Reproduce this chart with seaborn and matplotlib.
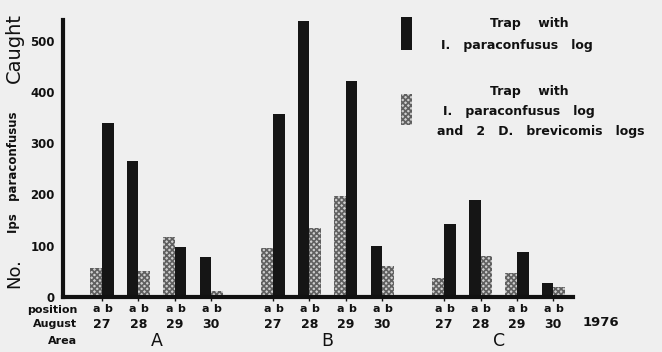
import numpy as np
import pandas as pd
import matplotlib
matplotlib.use("Agg")
import matplotlib.pyplot as plt
import matplotlib.transforms as mtransforms
from matplotlib.patches import Rectangle
import seaborn as sns

# ---- data ----
areas = ["A", "B", "C"]
dates = ["27", "28", "29", "30"]
positions = ["a", "b"]
# trap type at (a, b) per area/date: "P" = I. paraconfusus log only, "PD" = with D. brevicomis logs
trap_A = [["PD", "P"], ["P", "PD"], ["PD", "P"], ["P", "PD"]]
trap_B = [["PD", "P"], ["P", "PD"], ["PD", "P"], ["P", "PD"]]
trap_C = [["PD", "P"], ["P", "PD"], ["PD", "P"], ["P", "PD"]]
count_A = [[57, 340], [266, 51], [116, 97], [78, 12]]
count_B = [[96, 356], [539, 134], [197, 422], [100, 61]]
count_C = [[37, 142], [189, 79], [47, 88], [27, 20]]
year_label = "1976"

sns.set_theme(style="white")
BG = "#efefef"
plt.rcParams["font.family"] = ["DejaVu Sans"]
plt.rcParams["hatch.linewidth"] = 1.2

rows = []
area_gap = 0.7
bar_w = 0.32
for ai, (ar, tr, ct) in enumerate(zip(areas, [trap_A, trap_B, trap_C], [count_A, count_B, count_C])):
    for di, d in enumerate(dates):
        center = ai * (len(dates) + area_gap) + di
        for pi, p in enumerate(positions):
            rows.append(dict(area=ar, date=d, pos=p,
                             x=round(center + (pi - 0.5) * bar_w, 4),
                             center=center,
                             trap=tr[di][pi], count=ct[di][pi]))
df = pd.DataFrame(rows)

fig = plt.figure(figsize=(6.62, 3.52), dpi=100, facecolor=BG)
ax = fig.add_axes([63 / 662, 1 - 297 / 352, (573 - 63) / 662, (297 - 20) / 352])
ax.set_facecolor(BG)

sns.barplot(data=df, x="x", y="count", hue="trap", hue_order=["P", "PD"],
            palette={"P": "#151515", "PD": "#cfcfcf"}, native_scale=True,
            dodge=False, width=1.0, legend=False, ax=ax, linewidth=0,
            saturation=1, err_kws={"linewidth": 0})

for cont in ax.containers:
    for patch in cont.patches:
        fc = patch.get_facecolor()
        if fc[0] > 0.5:
            patch.set_hatch("xxxxxx")
            patch.set_edgecolor("#606060")
            patch.set_linewidth(0)

ax.set_xlim(-1.07, 12.94)
ax.set_ylim(0, 540)
for s in ["top", "right"]:
    ax.spines[s].set_visible(False)
for s in ["left", "bottom"]:
    ax.spines[s].set_linewidth(3)
    ax.spines[s].set_color("#111111")

ax.set_yticks([0, 100, 200, 300, 400, 500])
ax.set_yticklabels(["0", "100", "200", "300", "400", "500"], fontweight="bold", fontsize=8.5)
ax.tick_params(axis="y", length=0, pad=6, colors="#111111")

ax.set_xticks(df["x"].tolist())
ax.set_xticklabels(df["pos"].tolist(), fontweight="bold", fontsize=8)
ax.set_xticks(sorted(df["center"].unique()), minor=True)
ax.tick_params(axis="x", which="major", length=0, pad=5, colors="#111111")
ax.tick_params(axis="x", which="minor", length=3, width=1, color="#111111", direction="out", bottom=True)
ax.set_xlabel("")
ax.set_ylabel("")

trans = mtransforms.blended_transform_factory(ax.transData, fig.transFigure)
for (ar, d), g in df.groupby(["area", "date"]):
    c = g["center"].iloc[0]
    ax.text(c, 1 - 324 / 352, d, transform=trans, ha="center", va="center",
            fontsize=9, fontweight="bold", color="#111111")
for ar, g in df.groupby("area"):
    c = g["center"].mean()
    ax.text(c, 1 - 341 / 352, ar, transform=trans, ha="center", va="center",
            fontsize=12.5, color="#111111")

for txt, y in [("position", 310), ("August", 324), ("Area", 341)]:
    fig.text(77 / 662, 1 - y / 352, txt, ha="right", va="center", fontsize=8,
             fontweight="bold", color="#111111")
fig.text(601 / 662, 1 - 322 / 352, year_label, ha="center", va="center",
         fontsize=9.5, fontweight="bold", color="#111111")

# y axis label (mixed sizes as in the original)
fig.text(14 / 662, 1 - 273 / 352, "No.", rotation=90, ha="center", va="center",
         fontsize=13, color="#111111")
fig.text(14 / 662, 1 - 172 / 352, "Ips   paraconfusus", rotation=90, ha="center", va="center",
         fontsize=8.5, fontweight="bold", color="#111111")
fig.text(14 / 662, 1 - 48 / 352, "Caught", rotation=90, ha="center", va="center",
         fontsize=14, color="#111111")

# legend
fig.patches.append(Rectangle((401 / 662, 1 - 50 / 352), 11 / 662, 33 / 352,
                             transform=fig.transFigure, facecolor="#151515", edgecolor="none"))
fig.patches.append(Rectangle((401 / 662, 1 - 125 / 352), 11 / 662, 31 / 352,
                             transform=fig.transFigure, facecolor="#cfcfcf", edgecolor="#606060",
                             hatch="xxxxxx", linewidth=0))
lkw = dict(ha="center", va="center", fontsize=9, fontweight="bold", color="#111111")
fig.text(529 / 662, 1 - 24 / 352, "Trap    with", **lkw)
fig.text(517 / 662, 1 - 45 / 352, "I.   paraconfusus   log", **lkw)
fig.text(529 / 662, 1 - 91 / 352, "Trap    with", **lkw)
fig.text(519 / 662, 1 - 112 / 352, "I.   paraconfusus   log", **lkw)
fig.text(541 / 662, 1 - 132 / 352, "and   2   D.   brevicomis   logs", **lkw)

fig.savefig("out.png", dpi=100, facecolor=BG)
